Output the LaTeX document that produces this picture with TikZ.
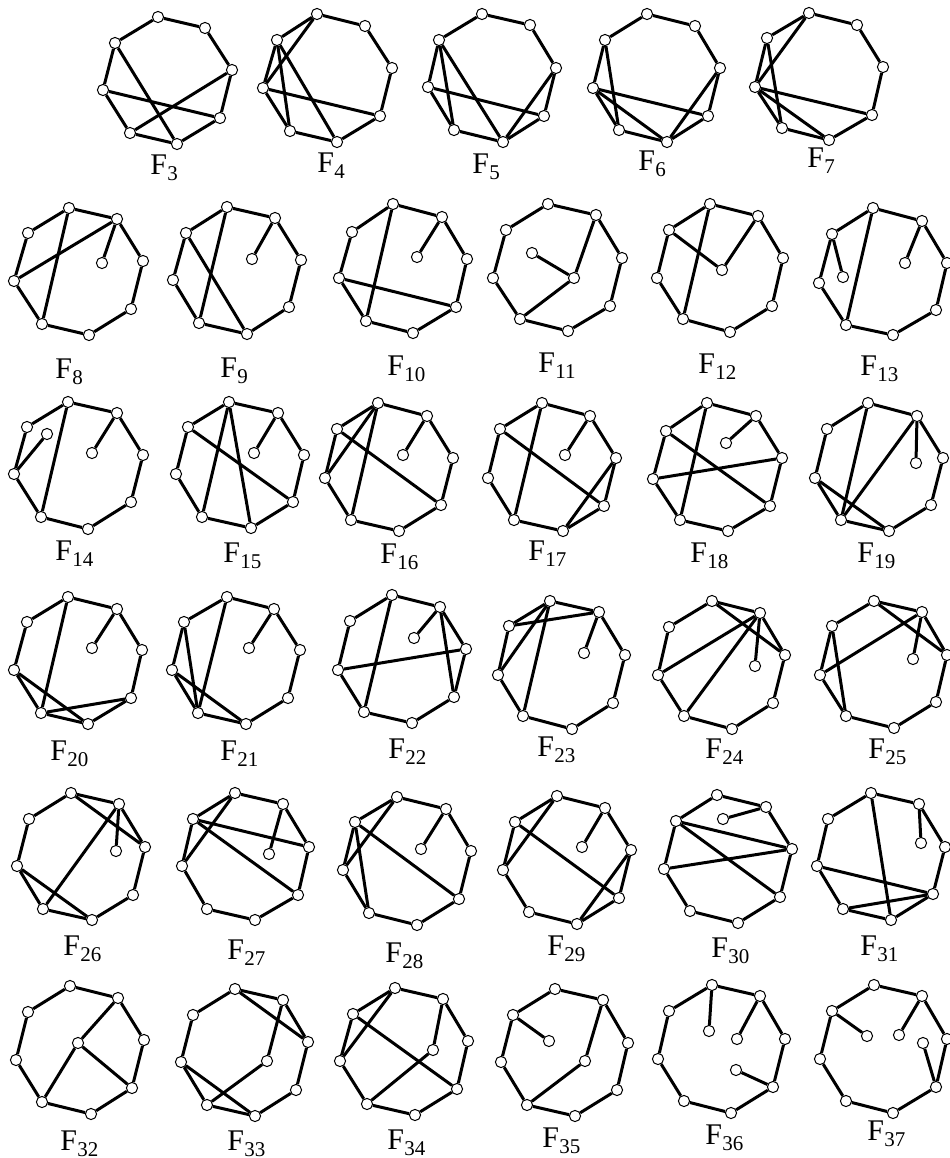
\documentclass[tikz,border=0pt]{standalone}
\usepackage{fontspec}
\setmainfont{Liberation Serif}
\usetikzlibrary{backgrounds}
\tikzset{
  vtx/.style={circle,draw,fill=white,inner sep=0pt,minimum size=5.6pt,line width=0.5pt},
  edge/.style={line width=1.5pt},
  lab/.style={inner sep=0pt,anchor=base west,font=\fontsize{15}{15}\selectfont}
}
\newcommand\Fl[1]{F\kern0.2pt\raisebox{-3pt}{\fontsize{10.5}{10.5}\selectfont #1}}
\newcommand\ring[2]{%
  \foreach[count=\k] \x/\y in {#2} {\node[vtx] (#1-\k) at (\x,\y) {};}
  \begin{scope}[on background layer]
    \foreach \a/\b in {1/2,2/3,3/4,4/5,5/6,6/7,7/8,8/1} \draw[edge] (#1-\a) -- (#1-\b);
  \end{scope}}
\newcommand\chords[2]{%
  \begin{scope}[on background layer]
    \foreach \a/\b in {#2} \draw[edge] (#1-\a) -- (#1-\b);
  \end{scope}}
\begin{document}
\begin{tikzpicture}[x=0.5pt,y=-0.5pt]
\begin{scope}[on background layer]
\fill[white] (0,0) rectangle (949,1158);
\end{scope}
\useasboundingbox (0,0) rectangle (949,1158);
% ---- row 1
\ring{g3}{158/17,205/28,232/70,220/118,177/144,130/133,103/90,115/43}
\chords{g3}{8/5,7/4,6/3}
\node[lab] (l3) at (150,174) {\Fl{3}};
\ring{g4}{317/14,365/26,392/68,380/116,337/142,290/131,263/88,277/40}
\chords{g4}{8/6,8/5,7/1,7/4}
\node[lab] (l4) at (317,172) {\Fl{4}};
\ring{g5}{482/14,530/25,556/68,544/116,503/142,454/130,428/87,439/40}
\chords{g5}{8/6,8/5,7/4,3/5}
\node[lab] (l5) at (472,173) {\Fl{5}};
\ring{g6}{647/14,695/26,720/68,708/116,667/142,619/130,593/88,605/40}
\chords{g6}{8/6,7/5,7/4,3/5}
\node[lab] (l6) at (638,170) {\Fl{6}};
\ring{g7}{809/13,857/25,883/67,872/115,829/140,782/128,755/87,767/38}
\chords{g7}{8/6,7/1,7/4,7/5}
\node[lab] (l7) at (807,167) {\Fl{7}};
% ---- row 2
\ring{g8}{69/208,117/219,143/261,131/309,89/335,42/324,14/281,28/233}
\node[vtx] (g8-9) at (102,263) {};
\chords{g8}{1/6,7/2,2/9}
\node[lab] (l8) at (55,378) {\Fl{8}};
\ring{g9}{227/207,275/218,301/260,289/307,247/334,199/323,173/280,186/233}
\node[vtx] (g9-9) at (252,259) {};
\chords{g9}{1/6,8/5,2/9}
\node[lab] (l9) at (220,377) {\Fl{9}};
\ring{g10}{393/204,442/217,467/259,456/307,413/333,366/321,339/278,352/232}
\node[vtx] (g10-9) at (417,257) {};
\chords{g10}{1/6,7/4,2/9}
\node[lab] (l10) at (387,375) {\Fl{10}};
\ring{g11}{548/204,596/215,622/258,610/306,568/331,520/319,493/278,506/230}
\node[vtx] (g11-9) at (532,253) {};
\node[vtx] (g11-10) at (574,278) {};
\chords{g11}{9/10,10/2,10/6}
\node[lab] (l11) at (538,372) {\Fl{11}};
\ring{g12}{710/204,758/216,783/258,772/306,730/332,683/319,657/278,669/230}
\node[vtx] (g12-9) at (722,270) {};
\chords{g12}{1/6,8/9,2/9}
\node[lab] (l12) at (698,373) {\Fl{12}};
\ring{g13}{873/208,922/221,947/263,936/310,893/335,846/325,819/283,832/234}
\node[vtx] (g13-9) at (843,277) {};
\node[vtx] (g13-10) at (905,263) {};
\chords{g13}{8/9,1/6,2/10}
\node[lab] (l13) at (860,375) {\Fl{13}};
% ---- row 3
\ring{g14}{68/402,117/413,143/455,131/502,88/529,41/517,14/474,27/427}
\node[vtx] (g14-9) at (47,434) {};
\node[vtx] (g14-10) at (92,453) {};
\chords{g14}{7/9,1/6,2/10}
\node[lab] (l14) at (55,560) {\Fl{14}};
\ring{g15}{229/402,278/413,304/455,293/502,251/528,202/517,176/474,188/427}
\node[vtx] (g15-9) at (254,453) {};
\chords{g15}{1/6,1/5,8/4,2/9}
\node[lab] (l15) at (223,562) {\Fl{15}};
\ring{g16}{378/403,427/416,453/458,441/505,399/531,351/520,325/478,337/429}
\node[vtx] (g16-9) at (403,455) {};
\chords{g16}{1/7,1/6,8/4,2/9}
\node[lab] (l16) at (380,563) {\Fl{16}};
\ring{g17}{542/403,590/416,616/458,604/506,563/531,514/520,488/478,500/429}
\node[vtx] (g17-9) at (565,455) {};
\chords{g17}{1/6,8/4,3/5,2/9}
\node[lab] (l17) at (528,560) {\Fl{17}};
\ring{g18}{707/403,756/416,782/458,770/506,728/531,680/520,653/479,666/431}
\node[vtx] (g18-9) at (726,443) {};
\chords{g18}{1/6,8/4,7/3,2/9}
\node[lab] (l18) at (690,562) {\Fl{18}};
\ring{g19}{868/403,917/416,943/458,931/505,889/531,841/520,815/478,827/429}
\node[vtx] (g19-9) at (916,463) {};
\chords{g19}{1/6,2/6,7/5,2/9}
\node[lab] (l19) at (857,562) {\Fl{19}};
% ---- row 4
\ring{g20}{68/597,117/609,142/650,131/698,88/724,41/713,14/670,27/622}
\node[vtx] (g20-9) at (92,648) {};
\chords{g20}{1/6,7/5,6/4,2/9}
\node[lab] (l20) at (50,760) {\Fl{20}};
\ring{g21}{227/597,274/609,300/650,288/698,246/724,198/713,172/670,184/622}
\node[vtx] (g21-9) at (249,648) {};
\chords{g21}{1/6,8/6,7/5,2/9}
\node[lab] (l21) at (220,760) {\Fl{21}};
\ring{g22}{392/595,440/607,466/649,454/697,412/723,364/712,338/670,350/621}
\node[vtx] (g22-9) at (414,638) {};
\chords{g22}{1/6,7/3,2/4,2/9}
\node[lab] (l22) at (388,758) {\Fl{22}};
\ring{g23}{550/601,599/612,625/655,613/703,572/729,523/716,498/675,509/626}
\node[vtx] (g23-9) at (584,653) {};
\chords{g23}{1/7,1/6,8/2,2/9}
\node[lab] (l23) at (537,756) {\Fl{23}};
\ring{g24}{712/601,760/613,785/655,773/703,732/729,684/716,658/675,669/627}
\node[vtx] (g24-9) at (755,666) {};
\chords{g24}{1/3,2/7,2/6,2/9}
\node[lab] (l24) at (705,758) {\Fl{24}};
\ring{g25}{874/601,922/612,947/655,936/702,894/728,846/716,820/675,832/626}
\node[vtx] (g25-9) at (913,659) {};
\chords{g25}{1/3,2/7,8/6,2/9}
\node[lab] (l25) at (868,758) {\Fl{25}};
% ---- row 5
\ring{g26}{71/793,119/804,145/847,133/895,92/920,43/909,17/866,29/819}
\node[vtx] (g26-9) at (116,851) {};
\chords{g26}{1/3,2/6,2/9,7/5}
\node[lab] (l26) at (63,955) {\Fl{26}};
\ring{g27}{235/793,283/804,309/847,298/895,255/920,207/909,182/866,193/819}
\node[vtx] (g27-9) at (269,854) {};
\chords{g27}{1/7,8/3,8/4,2/9}
\node[lab] (l27) at (227,959) {\Fl{27}};
\ring{g28}{397/797,446/809,471/851,459/899,417/925,369/913,343/870,355/822}
\node[vtx] (g28-9) at (421,849) {};
\chords{g28}{1/7,8/6,8/4,2/9}
\node[lab] (l28) at (385,962) {\Fl{28}};
\ring{g29}{557/796,605/808,631/850,619/898,577/924,529/912,503/870,515/822}
\node[vtx] (g29-9) at (582,847) {};
\chords{g29}{1/7,8/4,3/5,2/9}
\node[lab] (l29) at (547,955) {\Fl{29}};
\ring{g30}{717/795,766/807,792/849,780/897,738/923,690/911,664/869,676/821}
\node[vtx] (g30-9) at (723,819) {};
\chords{g30}{8/3,8/4,7/3,2/9}
\node[lab] (l30) at (711,957) {\Fl{30}};
\ring{g31}{871/793,919/804,945/847,933/894,891/920,843/909,817/866,828/819}
\node[vtx] (g31-9) at (921,843) {};
\chords{g31}{1/5,7/4,6/4,2/9}
\node[lab] (l31) at (860,955) {\Fl{31}};
% ---- row 6
\ring{g32}{70/986,118/998,144/1040,132/1088,91/1114,42/1102,16/1060,28/1012}
\node[vtx] (g32-9) at (78,1043) {};
\chords{g32}{9/2,9/6,9/4}
\node[lab] (l32) at (60,1150) {\Fl{32}};
\ring{g33}{235/989,283/1000,308/1042,296/1090,255/1116,207/1105,181/1062,193/1015}
\node[vtx] (g33-9) at (267,1061) {};
\chords{g33}{1/3,2/9,9/6,7/5}
\node[lab] (l33) at (227,1150) {\Fl{33}};
\ring{g34}{395/988,443/999,468/1041,457/1089,415/1115,367/1104,340/1061,353/1014}
\node[vtx] (g34-9) at (433,1050) {};
\chords{g34}{1/7,8/4,2/9,9/6}
\node[lab] (l34) at (387,1149) {\Fl{34}};
\ring{g35}{555/989,603/1000,628/1043,617/1090,575/1116,527/1105,501/1062,513/1015}
\node[vtx] (g35-9) at (549,1041) {};
\node[vtx] (g35-10) at (585,1061) {};
\chords{g35}{8/9,2/10,10/6}
\node[lab] (l35) at (542,1147) {\Fl{35}};
\ring{g36}{712/985,760/996,785/1039,773/1087,731/1113,684/1101,658/1059,669/1011}
\node[vtx] (g36-9) at (709,1031) {};
\node[vtx] (g36-10) at (737,1039) {};
\node[vtx] (g36-11) at (736,1070) {};
\chords{g36}{1/9,2/10,4/11}
\node[lab] (l36) at (705,1144) {\Fl{36}};
\ring{g37}{874/985,922/996,947/1039,936/1087,893/1113,846/1101,820/1059,832/1011}
\node[vtx] (g37-9) at (867,1036) {};
\node[vtx] (g37-10) at (899,1035) {};
\node[vtx] (g37-11) at (923,1043) {};
\chords{g37}{8/9,2/10,4/11}
\node[lab] (l37) at (867,1140) {\Fl{37}};
\end{tikzpicture}
\end{document}
